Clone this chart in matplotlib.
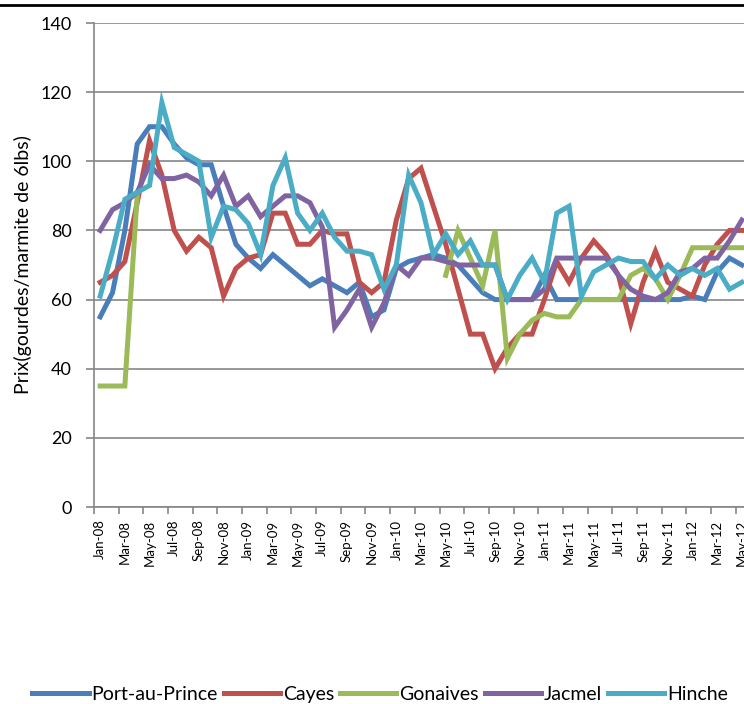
import matplotlib
matplotlib.use("Agg")
import matplotlib.pyplot as plt
import numpy as np
import pandas as pd
from matplotlib.lines import Line2D

plt.rcParams["font.family"] = ["Lato", "DejaVu Sans"]

# mois Jan-08 .. May-12
months = pd.date_range("2008-01-01", "2012-05-01", freq="MS").strftime("%b-%y").tolist()

port_au_prince = [55, 62, 80, 105, 110, 110, 105, 101, 99, 99, 87, 76,
                  72, 69, 73, 70, 67, 64, 66, 64, 62, 65, 55, 57,
                  69, 71, 72, 73, 72, 70, 66, 62, 60, 60, 60, 60,
                  67, 60, 60, 60, 60, 60, 60, 60, 60, 60, 60, 60,
                  61, 60, 68, 72, 70]
cayes = [65, 67, 71, 88, 106, 96, 80, 74, 78, 75, 61, 69,
         72, 73, 85, 85, 76, 76, 80, 79, 79, 65, 62, 65,
         83, 95, 98, 87, 76, 63, 50, 50, 40, 46, 50, 50,
         60, 71, 65, 72, 77, 73, 67, 53, 65, 74, 65, 63,
         61, 70, 76, 80, 80]
gonaives = [35, 35, 35, 90, np.nan, np.nan, np.nan, np.nan, np.nan, np.nan, np.nan, np.nan,
            np.nan, np.nan, np.nan, np.nan, np.nan, np.nan, np.nan, np.nan, np.nan, np.nan, np.nan, np.nan,
            np.nan, np.nan, np.nan, np.nan, 67, 80, 72, 64, 80, 43, 50, 54,
            56, 55, 55, 60, 60, 60, 60, 67, 69, 66, 60, 67,
            75, 75, 75, 75, 75]
jacmel = [80, 86, 88, 91, 99, 95, 95, 96, 94, 90, 96, 87,
          90, 84, 87, 90, 90, 88, 81, 52, 57, 63, 52, 59,
          70, 67, 72, 72, 71, 70, 70, 70, 70, 60, 60, 60,
          63, 72, 72, 72, 72, 72, 67, 63, 61, 60, 62, 68,
          69, 72, 72, 77, 83]
hinche = [61, 74, 89, 91, 93, 117, 104, 102, 100, 78, 87, 86,
          82, 73, 93, 101, 85, 80, 85, 78, 74, 74, 73, 63,
          70, 96, 88, 73, 79, 73, 77, 70, 70, 60, 67, 72,
          65, 85, 87, 61, 68, 70, 72, 71, 71, 66, 70, 67,
          69, 67, 69, 63, 65]

series = {
    "Port-au-Prince": (port_au_prince, "#4A7EBB"),
    "Cayes": (cayes, "#C0504D"),
    "Gonaives": (gonaives, "#9BBB59"),
    "Jacmel": (jacmel, "#8064A2"),
    "Hinche": (hinche, "#4BACC6"),
}

GRID = "#868686"

fig = plt.figure(figsize=(7.44, 7.04), dpi=100)
ax = fig.add_axes([94 / 744, 197 / 704, 654 / 744, 484 / 704])

x = np.arange(len(months))
for name, (vals, col) in series.items():
    ax.plot(x, vals, color=col, lw=3.6, label=name, solid_joinstyle="miter")

ax.set_xlim(-0.5, len(months) - 0.5)
ax.set_ylim(0, 140)
ax.set_yticks(range(0, 141, 20))
ax.yaxis.grid(True, color=GRID, lw=1.2)
ax.set_axisbelow(True)

ax.set_xticks(x[::2])
ax.set_xticklabels(months[::2], rotation=90, fontsize=9.5)
ax.set_xticks(np.arange(-0.5, len(months), 2), minor=True)
ax.tick_params(axis="x", which="major", length=0, pad=9)
ax.tick_params(axis="x", which="minor", length=5, width=1.2, color=GRID)
ax.tick_params(axis="y", length=6, width=1.2, color=GRID, labelsize=13, pad=10)

for s in ["top", "right"]:
    ax.spines[s].set_visible(False)
for s in ["left", "bottom"]:
    ax.spines[s].set_color(GRID)
    ax.spines[s].set_linewidth(1.2)

ax.set_ylabel("Prix(gourdes/marmite de 6lbs)", fontsize=14, labelpad=6)

fig.legend(loc="center", bbox_to_anchor=(0.511, 0.0135), ncol=5, frameon=False,
           fontsize=14, handlelength=2.9, handletextpad=0.15, columnspacing=0.3)

# trait noir en haut
fig.add_artist(Line2D([0, 1], [1 - 5 / 704, 1 - 5 / 704], color="black", lw=2,
                      transform=fig.transFigure))

fig.savefig("out.png", dpi=100)
